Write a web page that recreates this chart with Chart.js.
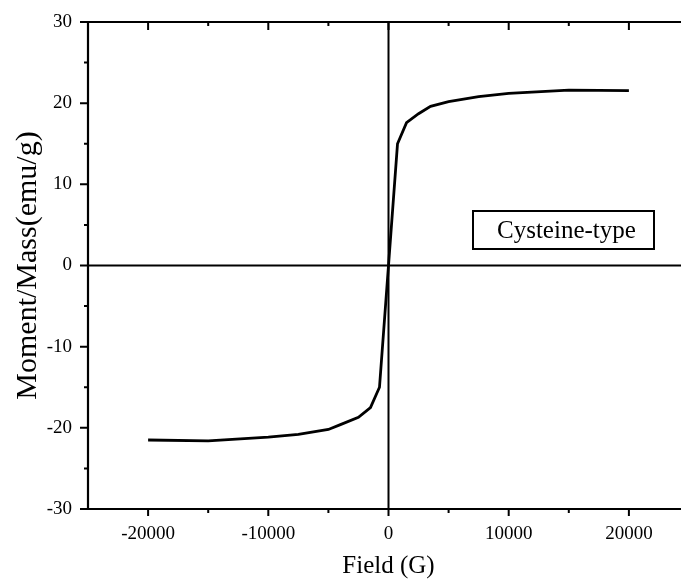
<!DOCTYPE html>
<html>
<head>
<meta charset="utf-8">
<script src="https://cdn.jsdelivr.net/npm/chart.js@4/dist/chart.umd.min.js"></script>
<style>
html, body {
    margin: 0;
    padding: 0;
    background: #ffffff;
    overflow: hidden;
}
#grafico {
    display: block;
}
</style>
</head>
<body>
<canvas id="grafico" width="700" height="581"></canvas>
<script>
// ==========================
// DADOS
// ==========================
const fieldG = [
    -20000, -15000, -10000, -7500, -5000, -4000, -2500, -1500, -750,
    0,
    750, 1500, 2500, 3500, 5000, 7500, 10000, 15000, 20000
];

const momentEmu = [
    -21.5, -21.6, -21.15, -20.8, -20.2, -19.6, -18.7, -17.5, -15.0,
    0,
    15.0, 17.6, 18.7, 19.6, 20.2, 20.8, 21.2, 21.6, 21.55
];

const xTicks = [-20000, -10000, 0, 10000, 20000];
const xMinorTicks = [-15000, -5000, 5000, 15000];
const yTicks = [-30, -20, -10, 0, 10, 20, 30];
const yMinorTicks = [-25, -15, -5, 5, 15, 25];

const legendLabel = "Cysteine-type";
const xTitle = "Field (G)";
const yTitle = "Moment/Mass(emu/g)";

const serif = "'Liberation Serif', 'DejaVu Serif', serif";

// ==========================
// MOLDURA / EIXOS / LEGENDA
// ==========================
const moldura = {

    id: "moldura",

    beforeDatasetsDraw(chart){

        const {ctx, chartArea, scales} = chart;
        const x0 = scales.x.getPixelForValue(0);
        const y0 = scales.y.getPixelForValue(0);

        ctx.save();
        ctx.strokeStyle = "#000";
        ctx.lineWidth = 2;

        // linhas do zero
        ctx.beginPath();
        ctx.moveTo(chartArea.left, y0);
        ctx.lineTo(chartArea.right, y0);
        ctx.moveTo(x0, chartArea.top);
        ctx.lineTo(x0, chartArea.bottom);
        ctx.stroke();

        ctx.restore();
    },

    afterDraw(chart){

        const {ctx, chartArea, scales} = chart;
        const {left, right, top, bottom} = chartArea;

        ctx.save();
        ctx.strokeStyle = "#000";
        ctx.lineWidth = 2.2;
        ctx.lineCap = "butt";

        // eixos
        ctx.beginPath();
        ctx.moveTo(left, top);
        ctx.lineTo(right, top);
        ctx.moveTo(left, top - 1);
        ctx.lineTo(left, bottom);
        ctx.lineTo(right, bottom);
        ctx.stroke();

        // ticks eixo y (para fora)
        ctx.lineWidth = 2;
        ctx.beginPath();
        yTicks.forEach(v => {
            const py = scales.y.getPixelForValue(v);
            ctx.moveTo(left - 8, py);
            ctx.lineTo(left, py);
        });
        yMinorTicks.forEach(v => {
            const py = scales.y.getPixelForValue(v);
            ctx.moveTo(left - 4, py);
            ctx.lineTo(left, py);
        });

        // ticks eixo x embaixo (para fora) e em cima (para dentro)
        xTicks.forEach(v => {
            const px = scales.x.getPixelForValue(v);
            ctx.moveTo(px, bottom);
            ctx.lineTo(px, bottom + 7);
            ctx.moveTo(px, top);
            ctx.lineTo(px, top + 8);
        });
        xMinorTicks.forEach(v => {
            const px = scales.x.getPixelForValue(v);
            ctx.moveTo(px, bottom);
            ctx.lineTo(px, bottom + 4);
            ctx.moveTo(px, top);
            ctx.lineTo(px, top + 4);
        });
        ctx.stroke();

        // caixa da legenda
        ctx.lineWidth = 2;
        ctx.strokeRect(473, 211, 181, 38);

        ctx.fillStyle = "#000";
        ctx.font = "25px " + serif;
        ctx.textAlign = "left";
        ctx.textBaseline = "alphabetic";
        ctx.fillText(legendLabel, 497, 238);

        ctx.restore();
    }
};

// ==========================
// GRAFICO
// ==========================
const pontos = fieldG.map((f, i) => ({x: f, y: momentEmu[i]}));

const ctx =
document
    .getElementById("grafico")
    .getContext("2d");

new Chart(ctx, {

    type: "line",

    data: {
        datasets: [{
            label: legendLabel,
            data: pontos,
            borderColor: "#000",
            borderWidth: 2.8,
            pointRadius: 0,
            tension: 0,
            fill: false
        }]
    },

    options: {

        responsive: false,
        animation: false,
        devicePixelRatio: 1,

        layout: {
            padding: {top: 22, right: 11, left: 0, bottom: 0}
        },

        plugins: {
            legend: {display: false},
            tooltip: {enabled: false}
        },

        scales: {

            x: {
                type: "linear",
                min: -25000,
                max: 25000,
                afterBuildTicks: s => {
                    s.ticks = xTicks.map(v => ({value: v}));
                },
                afterFit: s => {
                    s.height = 72;
                },
                grid: {display: false, drawTicks: false},
                border: {display: false},
                ticks: {
                    color: "#000",
                    padding: 14,
                    maxRotation: 0,
                    autoSkip: false,
                    font: {family: serif, size: 19},
                    callback: v => String(v)
                },
                title: {
                    display: true,
                    text: xTitle,
                    color: "#000",
                    padding: {top: 2, bottom: 0},
                    font: {family: serif, size: 25}
                }
            },

            y: {
                type: "linear",
                min: -30,
                max: 30,
                afterBuildTicks: s => {
                    s.ticks = yTicks.map(v => ({value: v}));
                },
                afterFit: s => {
                    s.width = 88;
                    s.paddingTop = 0;
                    s.paddingBottom = 0;
                },
                grid: {display: false, drawTicks: false},
                border: {display: false},
                ticks: {
                    color: "#000",
                    padding: 16,
                    autoSkip: false,
                    font: {family: serif, size: 19},
                    callback: v => String(v)
                },
                title: {
                    display: true,
                    text: yTitle,
                    color: "#000",
                    padding: {top: 10, bottom: 0},
                    font: {family: serif, size: 30}
                }
            }
        }
    },

    plugins: [moldura]
});
</script>
</body>
</html>
